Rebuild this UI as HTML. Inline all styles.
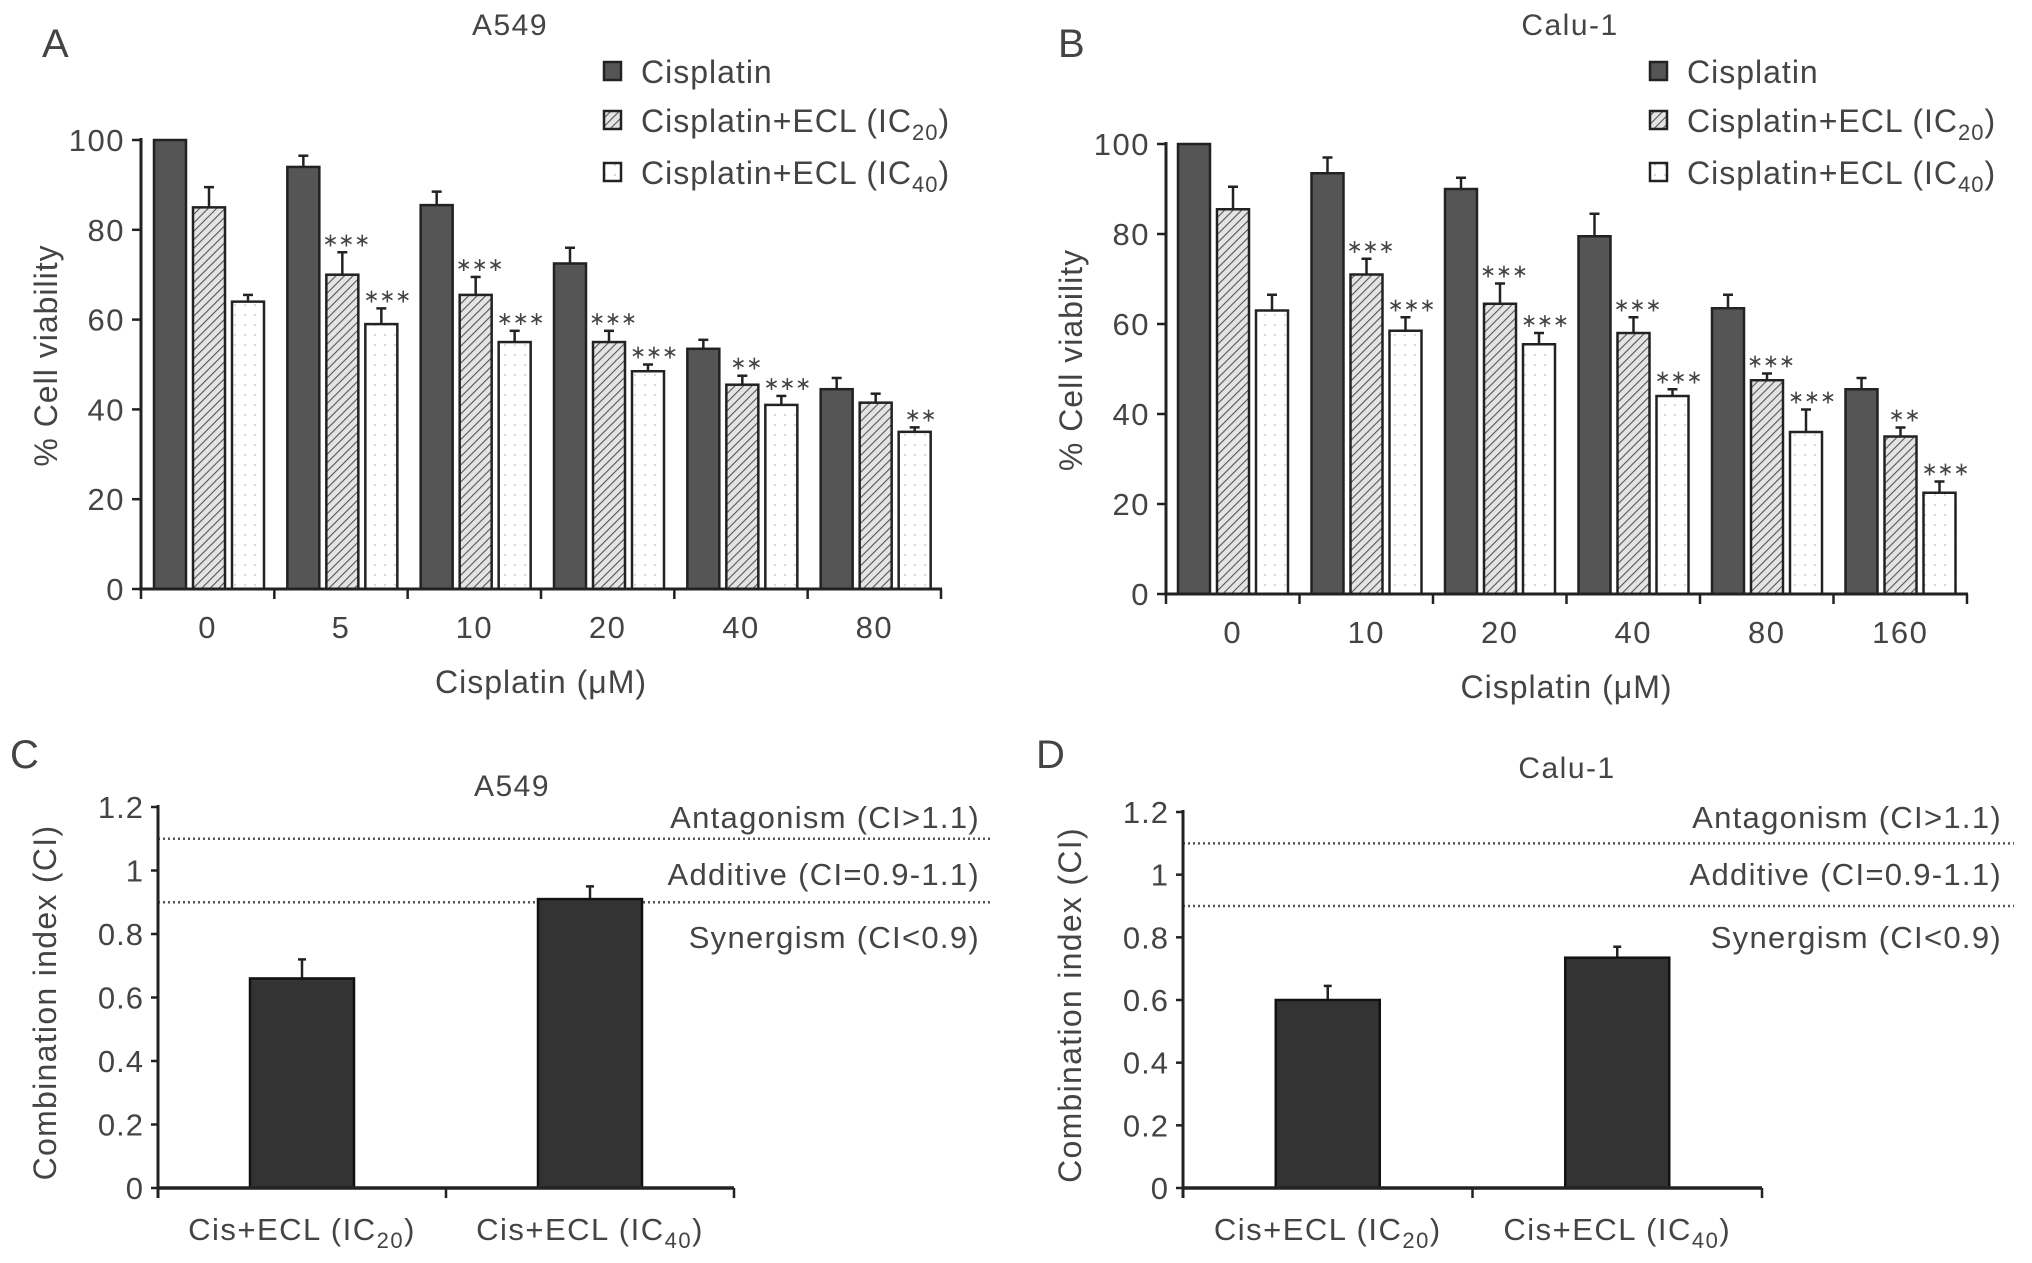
<!DOCTYPE html>
<html><head><meta charset="utf-8">
<style>
html,body{margin:0;padding:0;background:#fff;}
svg{display:block;font-family:"Liberation Sans",sans-serif;}
text{fill:#444;}
</style></head>
<body>
<svg id="fig" width="2032" height="1263" viewBox="0 0 2032 1263" xmlns="http://www.w3.org/2000/svg">
<defs>
<pattern id="hatch" patternUnits="userSpaceOnUse" width="6" height="6" patternTransform="rotate(45)">
<rect width="6" height="6" fill="#e4e4e4"/><line x1="0" y1="0" x2="0" y2="6" stroke="#555" stroke-width="2.2"/>
</pattern>
<pattern id="dots" patternUnits="userSpaceOnUse" width="10" height="10">
<rect width="10" height="10" fill="#fff"/><circle cx="5" cy="5" r="0.9" fill="#bbb"/>
</pattern>
</defs>
</svg>
<script>
// Panel A data
const catsA = ["0","5","10","20","40","80"];
const cisA = [100,94,85.5,72.5,53.5,44.5];
const cisErrA = [0,2.5,3,3.5,2,2.5];
const ic20A = [85,70,65.5,55,45.5,41.5];
const ic20ErrA = [4.5,5,4,2.5,2,2];
const ic40A = [64,59,55,48.5,41,35];
const ic40ErrA = [1.5,3.5,2.5,1.5,2,1];
const starsIc20A = ["","***","***","***","**",""];
const starsIc40A = ["","***","***","***","***","**"];
// Panel B data
const catsB = ["0","10","20","40","80","160"];
const cisB = [100,93.5,90,79.5,63.5,45.5];
const cisErrB = [0,3.5,2.5,5,3,2.5];
const ic20B = [85.5,71,64.5,58,47.5,35];
const ic20ErrB = [5,3.5,4.5,3.5,1.5,2];
const ic40B = [63,58.5,55.5,44,36,22.5];
const ic40ErrB = [3.5,3,2.5,1.5,5,2.5];
const starsIc20B = ["","***","***","***","***","**"];
const starsIc40B = ["","***","***","***","***","***"];
const viabTicks = [0,20,40,60,80,100];
// Panel C/D data
const ciCats = ["Cis+ECL (IC20)","Cis+ECL (IC40)"];
const ciA = [0.66,0.91];
const ciErrA = [0.06,0.04];
const ciB = [0.60,0.735];
const ciErrB = [0.045,0.035];
const ciTicks = [0,0.2,0.4,0.6,0.8,1,1.2];
const ciRegions = [1.1,0.9];

const NS="http://www.w3.org/2000/svg";
const svg=document.getElementById('fig');
function mk(tag,attrs,parent,txt){const e=document.createElementNS(NS,tag);for(const k in attrs)e.setAttribute(k,attrs[k]);if(txt!==undefined)e.textContent=txt;(parent||svg).appendChild(e);return e;}

function barPanel(o){
  const g=mk('g',{});
  
  
  const y=v=>o.y0-(v/100)*(o.y0-o.y100);
  const gw=(o.x1-o.x0)/o.cats.length;
  const t=mk('text',{x:o.titleX,y:o.titleY+2,'font-size':30,'letter-spacing':1.5,'text-anchor':'middle'},g,o.title);
  
  
  const pl=mk('text',{x:o.letterX,y:57,'font-size':40,fill:'#222'},g,o.letter);
  
  
  viabTicks.forEach(v=>{
    mk('line',{x1:o.x0-9,x2:o.x0,y1:y(v),y2:y(v),stroke:'#222','stroke-width':2.5},g);
    const tl=mk('text',{x:o.x0-16,y:y(v)+11,'font-size':31,'letter-spacing':1.5,'text-anchor':'end'},g,String(v));
    
    
  });
  const series=[[o.cis,o.cisErr,'#555',null],[o.ic20,o.ic20Err,'url(#hatch)',o.s20],[o.ic40,o.ic40Err,'url(#dots)',o.s40]];
  o.cats.forEach((c,i)=>{
    const gx=o.x0+i*gw;
    series.forEach((s,j)=>{
      const bx=gx+o.off+j*39, bw=32, v=s[0][i], e=s[1][i];
      if(e>0){mk('line',{x1:bx+bw/2,x2:bx+bw/2,y1:y(v),y2:y(v+e),stroke:'#222','stroke-width':2.5},g);
        mk('line',{x1:bx+bw/2-5,x2:bx+bw/2+5,y1:y(v+e),y2:y(v+e),stroke:'#222','stroke-width':2.5},g);}
      const r=mk('rect',{x:bx,y:y(v),width:bw,height:y(0)-y(v),fill:s[2],stroke:'#222','stroke-width':2.5},g);
      
      
      if(s[3]&&s[3][i]){const st=mk('text',{x:bx+bw/2+(j==2?6:4),y:y(v+e)-6,'font-size':19,'text-anchor':'middle'},g,s[3][i].replace(/\*/g,'∗'));
        
        }
    });
    mk('line',{x1:gx,x2:gx,y1:o.y0,y2:o.y0+10,stroke:'#222','stroke-width':2.5},g);
    const xl=mk('text',{x:gx+gw/2,y:o.y0+49,'font-size':31,'letter-spacing':1.5,'text-anchor':'middle'},g,c);
    
    
  });
  mk('line',{x1:o.x1,x2:o.x1,y1:o.y0,y2:o.y0+10,stroke:'#222','stroke-width':2.5},g);
  mk('line',{x1:o.x0,x2:o.x0,y1:o.y100-2,y2:o.y0,stroke:'#222','stroke-width':3},g);
  mk('line',{x1:o.x0-2,x2:o.x1+1,y1:o.y0,y2:o.y0,stroke:'#222','stroke-width':3},g);
  const xt=mk('text',{x:(o.x0+o.x1)/2,y:o.y0+104,'font-size':32,'letter-spacing':1,'text-anchor':'middle'},g,'Cisplatin (μM)');
  
  
  const yt=mk('text',{x:0,y:0,'font-size':32,'letter-spacing':1,'text-anchor':'middle',transform:`translate(${o.x0-84},${(o.y0+o.y100)/2-9}) rotate(-90)`},g,'% Cell viability');
  
  
  const lg=[['#555','Cisplatin',''],['url(#hatch)','Cisplatin+ECL (IC','20'],['url(#dots)','Cisplatin+ECL (IC','40']];
  lg.forEach((l,k)=>{
    const cy=[71,120,172][k];
    const le=mk('g',{},g);
    
    
    mk('rect',{x:o.legX,y:cy-9,width:17,height:18,fill:l[0],stroke:'#222','stroke-width':2.5},le);
    const tx=mk('text',{x:o.legX+37,y:cy+12,'font-size':32,'letter-spacing':1},le,l[1]);
    if(l[2]){mk('tspan',{'font-size':22,dy:8},tx,l[2]);mk('tspan',{dy:-8},tx,')');}
  });
}
barPanel({name:'panel-a-chart',title:'A549',titleX:510,titleY:33,letter:'A',letterX:42,cats:catsA,cis:cisA,cisErr:cisErrA,ic20:ic20A,ic20Err:ic20ErrA,ic40:ic40A,ic40Err:ic40ErrA,s20:starsIc20A,s40:starsIc40A,x0:141,x1:941,y0:589,y100:140,off:13,legX:604});
barPanel({name:'panel-b-chart',title:'Calu-1',titleX:1570,titleY:33,letter:'B',letterX:1058,cats:catsB,cis:cisB,cisErr:cisErrB,ic20:ic20B,ic20Err:ic20ErrB,ic40:ic40B,ic40Err:ic40ErrB,s20:starsIc20B,s40:starsIc40B,x0:1166,x1:1967,y0:594,y100:144,off:12,legX:1650});

function ciPanel(o){
  const g=mk('g',{});
  
  
  const y=v=>o.y0-(v/1.2)*(o.y0-o.ytop);
  const gw=(o.x1-o.x0)/o.vals.length;
  const t=mk('text',{x:o.titleX,y:o.titleY+10,'font-size':30,'letter-spacing':1.5,'text-anchor':'middle'},g,o.title);
  
  
  const pl=mk('text',{x:o.letterX,y:768,'font-size':40,fill:'#222'},g,o.letter);
  
  
  ciTicks.forEach(v=>{
    mk('line',{x1:o.x0-7,x2:o.x0,y1:y(v),y2:y(v),stroke:'#222','stroke-width':2.5},g);
    const tl=mk('text',{x:o.x0-14,y:y(v)+11,'font-size':31,'letter-spacing':1,'text-anchor':'end'},g,String(v));
    
    
  });
  ciRegions.forEach(r=>{
    const dl=mk('line',{x1:o.x0,x2:o.lineEnd,y1:y(r),y2:y(r),stroke:'#555','stroke-width':2.5,'stroke-dasharray':'2,3'},g);
    
    
  });
  const labs=['Antagonism (CI>1.1)','Additive (CI=0.9-1.1)','Synergism (CI<0.9)'];
  [817,874,937].forEach((yy,k)=>{
    const tl=mk('text',{x:o.labX,y:yy+11,'font-size':31,'letter-spacing':1.3,'text-anchor':'end'},g,labs[k]);
    
    
  });
  o.vals.forEach((v,i)=>{
    const cx=o.x0+gw*(i+0.5), bw=104, e=o.errs[i];
    mk('line',{x1:cx,x2:cx,y1:y(v),y2:y(v+e),stroke:'#222','stroke-width':2.5},g);
    mk('line',{x1:cx-4,x2:cx+4,y1:y(v+e),y2:y(v+e),stroke:'#222','stroke-width':2.5},g);
    const r=mk('rect',{x:cx-bw/2,y:y(v),width:bw,height:y(0)-y(v),fill:'#333',stroke:'#111','stroke-width':2.5},g);
    
    
    const xl=mk('text',{x:cx,y:o.y0+52,'font-size':31,'letter-spacing':1.5,'text-anchor':'middle'},g,'Cis+ECL (IC');
    mk('tspan',{'font-size':22,dy:8},xl,ciCats[i].slice(-3,-1));
    mk('tspan',{dy:-8},xl,')');
    
    
    mk('line',{x1:o.x0+gw*(i+1),x2:o.x0+gw*(i+1),y1:o.y0,y2:o.y0+10,stroke:'#222','stroke-width':2.5},g);
  });
  mk('line',{x1:o.x0,x2:o.x0,y1:o.ytop-2,y2:o.y0+10,stroke:'#222','stroke-width':3},g);
  mk('line',{x1:o.x0,x2:o.x1,y1:o.y0,y2:o.y0,stroke:'#222','stroke-width':3.5},g);
  const yt=mk('text',{x:0,y:0,'font-size':32,'letter-spacing':1.3,'text-anchor':'middle',transform:`translate(${o.x0-102},${(o.y0+o.ytop)/2+5}) rotate(-90)`},g,'Combination index (CI)');
  
  
}
ciPanel({name:'panel-c-chart',title:'A549',titleX:512,titleY:786,letter:'C',letterX:10,vals:ciA,errs:ciErrA,x0:158,x1:734,y0:1188,ytop:807,lineEnd:991,labX:980});
ciPanel({name:'panel-d-chart',title:'Calu-1',titleX:1567,titleY:768,letter:'D',letterX:1036,vals:ciB,errs:ciErrB,x0:1183,x1:1762,y0:1188,ytop:812,lineEnd:2014,labX:2002});
</script>
</body></html>
